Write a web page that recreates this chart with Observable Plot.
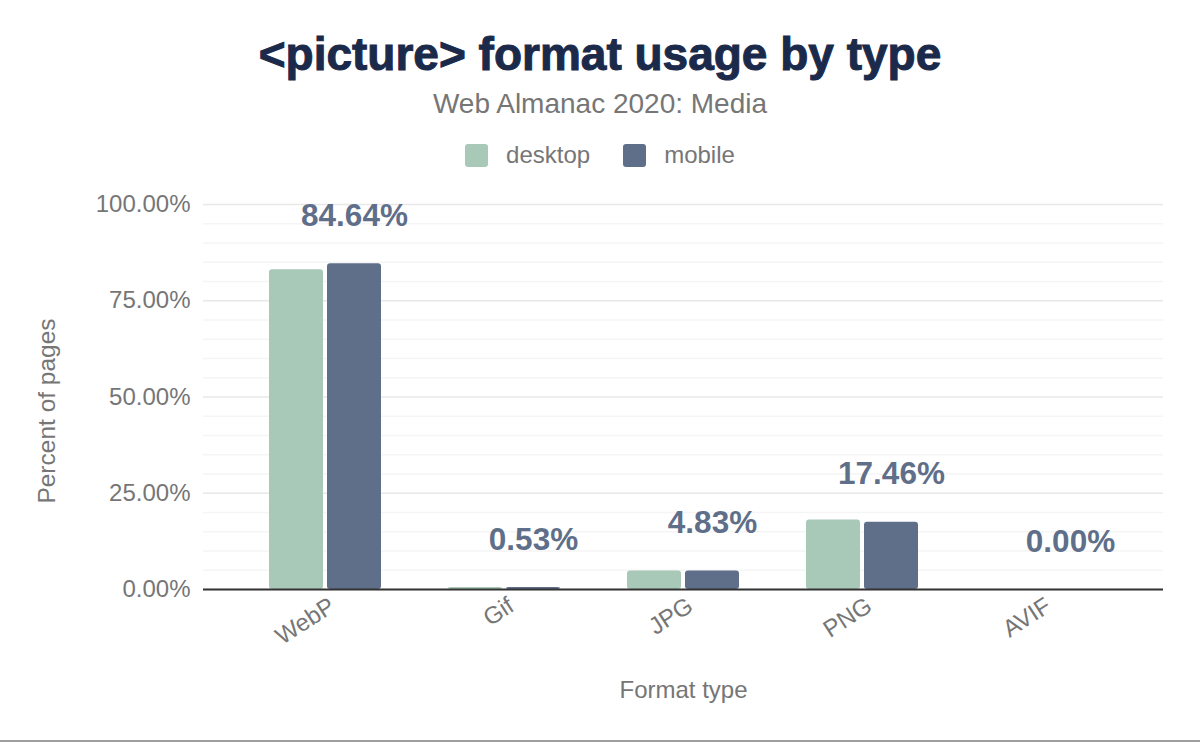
<!DOCTYPE html>
<html><head><meta charset="utf-8">
<script src="https://cdn.jsdelivr.net/npm/d3@7"></script>
<script src="https://cdn.jsdelivr.net/npm/@observablehq/plot@0.6"></script>
<style>
html,body{margin:0;padding:0;background:#fff;}
body{width:1200px;height:742px;position:relative;overflow:hidden;font-family:"Liberation Sans",Arial,sans-serif;}
#title{position:absolute;left:0;width:1200px;top:31px;text-align:center;font-size:46px;line-height:46px;font-weight:bold;color:#1b2a4a;-webkit-text-stroke:1px #1b2a4a;}
#subtitle{position:absolute;left:0;width:1200px;top:90px;text-align:center;font-size:28px;line-height:28px;color:#767676;}
#legend{position:absolute;left:0;width:1200px;top:143px;display:flex;justify-content:center;align-items:center;font-size:24px;line-height:24px;color:#767676;}
.item{display:flex;align-items:center;}
.item + .item{margin-left:33px;}
.sw{width:23px;height:23px;border-radius:3px;margin-right:18px;}
#chart{position:absolute;left:0;top:180px;}
#bottomline{position:absolute;left:0;top:740px;width:1200px;height:2px;background:#9e9e9e;}
</style></head>
<body>
<div id="title">&lt;picture&gt; format usage by type</div>
<div id="subtitle">Web Almanac 2020: Media</div>
<div id="legend"></div>
<div id="chart"></div>
<div id="bottomline"></div>
<script>
const formats = ["WebP", "Gif", "JPG", "PNG", "AVIF"];
const devices = ["desktop", "mobile"];
const desktopValues = [83.05, 0.50, 4.78, 18.05, 0.00];
const mobileValues = [84.64, 0.53, 4.83, 17.46, 0.00];
const colors = ["#a8c8b8", "#5f6f8a"];
const yTicks = [0, 25, 50, 75, 100];
const minorTicks = [5, 10, 15, 20, 30, 35, 40, 45, 55, 60, 65, 70, 80, 85, 90, 95];
const yTitle = "Percent of pages";
const xTitle = "Format type";

const desktopData = formats.map((f, i) => ({format: f, device: "desktop", value: desktopValues[i]}));
const mobileData = formats.map((f, i) => ({format: f, device: "mobile", value: mobileValues[i]}));

const legend = document.getElementById("legend");
devices.forEach((d, i) => {
  const it = document.createElement("div");
  it.className = "item";
  const sw = document.createElement("div");
  sw.className = "sw";
  sw.style.background = colors[i];
  const tx = document.createElement("span");
  tx.textContent = d;
  it.appendChild(sw); it.appendChild(tx);
  legend.appendChild(it);
});

const fmt = v => v.toFixed(2) + "%";

const chart = Plot.plot({
  width: 1200,
  height: 540,
  marginTop: 24,
  marginBottom: 131,
  marginLeft: 203,
  marginRight: 37,
  style: {fontFamily: "Liberation Sans, Arial, sans-serif", fontSize: "24px", color: "#767676", background: "#fff"},
  x: {domain: formats, paddingInner: 0.376, paddingOuter: 0.362, label: null},
  y: {domain: [0, 100], label: null},
  marks: [
    Plot.gridY(minorTicks, {stroke: "#f5f5f5", strokeOpacity: 1, strokeWidth: 1.5}),
    Plot.gridY(yTicks, {stroke: "#e8e8e8", strokeOpacity: 1, strokeWidth: 1.5}),
    Plot.barY(desktopData, {x: "format", y: "value", fill: colors[0], insetRight: 58, rx: 3}),
    Plot.barY(mobileData, {x: "format", y: "value", fill: colors[1], insetLeft: 58, rx: 3}),
    Plot.text(mobileData, {
      x: "format", y: "value", text: d => fmt(d.value),
      dx: 29, dy: -48, fontSize: 31.5, fontWeight: "bold", fill: "#5f6f8a"
    }),
    Plot.ruleY([0], {stroke: "#333", strokeWidth: 2}),
    Plot.axisY({ticks: yTicks, tickFormat: fmt, tickSize: 0, tickPadding: 13, label: null, fontSize: 24}),
    Plot.axisX({anchor: "bottom", tickSize: 0, tickRotate: -33, tickPadding: 14, dx: 7,
      label: null, fontSize: 24}),
    Plot.text([yTitle], {frameAnchor: "left", textAnchor: "middle", lineAnchor: "middle", rotate: -90,
      dx: -156, dy: 14, text: d => d, fontSize: 24.5, fill: "#767676"}),
    Plot.text([xTitle], {frameAnchor: "bottom", dy: 108, text: d => d,
      fontSize: 24, fill: "#767676"})
  ]
});
document.getElementById("chart").appendChild(chart);
</script>
</body></html>
